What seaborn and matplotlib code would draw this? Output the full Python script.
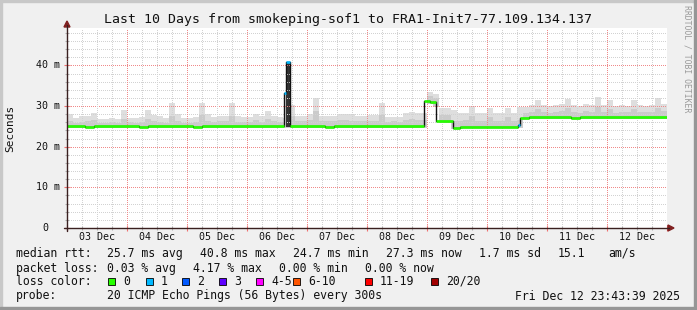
import numpy as np
import pandas as pd
import matplotlib
matplotlib.use("Agg")
import matplotlib.pyplot as plt
import seaborn as sns
from matplotlib.patches import Rectangle, Polygon
from matplotlib.lines import Line2D
from matplotlib.transforms import blended_transform_factory

# ---------------- data ----------------
title = "Last 10 Days from smokeping-sof1 to FRA1-Init7-77.109.134.137"
day_labels = ["03 Dec", "04 Dec", "05 Dec", "06 Dec", "07 Dec",
              "08 Dec", "09 Dec", "10 Dec", "11 Dec", "12 Dec"]
y_tick_values = [0, 10, 20, 30, 40]
y_tick_labels = ["0", "10 m", "20 m", "30 m", "40 m"]

# median rtt (ms), step function; time in days since 03 Dec 00:00
med_t = [0.00, 0.30, 0.45, 1.20, 1.35, 2.10, 2.25, 3.62, 3.65, 3.72, 4.30, 4.45,
         5.95, 6.05, 6.15, 6.43, 6.55, 7.52, 7.55, 7.70, 8.40, 8.55, 10.0]
med_v = [25.0, 24.8, 25.0, 24.8, 25.0, 24.8, 25.0, 33.3, 40.8, 25.0, 24.8, 25.0,
         31.3, 30.9, 26.3, 24.6, 24.9, 25.3, 27.1, 27.3, 27.1, 27.3, 27.3]
med_loss = [0, 0, 0, 0, 0, 0, 0, 1, 1, 0, 0, 0,
            0, 0, 0, 0, 0, 1, 0, 0, 0, 0]

# smoke (ms), 100 bins of 0.1 day
smoke_lo = [24.6, 24.6, 24.6, 24.6, 24.6, 24.6, 24.6, 24.6, 24.6, 24.6,
            24.6, 24.6, 24.6, 24.6, 24.6, 24.6, 24.6, 24.6, 24.6, 24.6,
            24.6, 24.6, 24.6, 24.6, 24.6, 24.6, 24.6, 24.6, 24.6, 24.6,
            24.6, 24.6, 24.6, 24.6, 24.6, 24.6, 24.6, 24.6, 24.6, 24.6,
            24.6, 24.6, 24.6, 24.6, 24.6, 24.6, 24.6, 24.6, 24.6, 24.6,
            24.6, 24.6, 24.6, 24.6, 24.6, 24.6, 24.6, 24.6, 24.6, 24.6,
            30.4, 29.8, 25.8, 25.8, 24.4, 24.4, 24.5, 24.5, 24.5, 24.5,
            24.5, 24.5, 24.5, 24.5, 24.5, 24.6, 26.9, 26.9, 26.9, 26.9,
            26.9, 26.9, 26.9, 26.9, 26.9, 26.9, 26.9, 26.9, 26.9, 26.9,
            26.9, 26.9, 26.9, 26.9, 26.9, 26.9, 26.9, 26.9, 26.9, 26.9]
smoke_mid = [26.2, 25.9, 26.0, 26.3, 26.6, 25.9, 25.8, 26.0, 25.9, 26.8,
             26.0, 25.9, 26.1, 26.9, 26.3, 26.1, 25.9, 27.6, 26.4, 25.9,
             25.9, 26.1, 27.9, 26.4, 26.0, 26.2, 26.2, 27.5, 26.1, 26.0,
             26.0, 26.5, 26.1, 26.9, 26.2, 26.0, 26.0, 27.6, 26.3, 26.2,
             26.5, 28.9, 26.3, 26.2, 26.2, 26.5, 26.5, 26.4, 26.2, 26.2,
             26.3, 26.3, 27.8, 26.1, 26.2, 26.1, 26.6, 26.9, 26.6, 26.6,
             32.4, 32.0, 27.8, 27.7, 26.3, 26.4, 26.5, 27.6, 26.4, 26.3,
             27.3, 26.4, 26.3, 27.3, 26.4, 26.5, 28.4, 28.6, 29.2, 28.6,
             28.4, 28.6, 28.7, 29.4, 28.6, 28.4, 28.7, 28.6, 29.7, 28.6,
             29.2, 28.4, 28.6, 28.5, 29.2, 28.6, 28.5, 28.6, 29.6, 28.8]
smoke_hi = [28.0, 27.0, 27.5, 27.5, 28.2, 26.8, 26.8, 27.0, 26.8, 29.0,
            27.0, 27.0, 27.2, 29.0, 27.7, 27.5, 27.0, 30.7, 28.0, 27.0,
            27.0, 27.2, 30.8, 28.0, 27.2, 27.6, 27.6, 30.7, 27.5, 27.2,
            27.2, 28.0, 27.5, 28.7, 27.5, 27.2, 27.0, 30.3, 27.6, 27.6,
            28.0, 32.0, 27.6, 27.6, 27.6, 28.0, 28.0, 28.0, 27.6, 27.6,
            27.8, 27.8, 30.7, 27.4, 27.4, 27.4, 28.2, 28.5, 28.2, 28.2,
            33.5, 33.0, 29.4, 29.4, 29.0, 28.3, 28.3, 30.0, 28.3, 28.2,
            29.5, 28.2, 28.2, 29.5, 28.2, 29.8, 29.8, 30.3, 31.5, 30.3,
            30.0, 30.3, 30.5, 31.7, 30.3, 30.0, 30.5, 30.3, 32.2, 30.3,
            31.5, 30.0, 30.3, 30.0, 31.5, 30.3, 30.0, 30.3, 32.0, 30.5]

# outage spike around 06 Dec 15:00
spike_t0 = [3.62, 3.65]
spike_t1 = [3.65, 3.72]
spike_lo = [24.8, 24.8]
spike_hi = [33.3, 40.8]
spike_shade = ["#d4d4d4", "#333333"]

loss_names = ["0", "1", "2", "3", "4-5", "6-10", "11-19", "20/20"]
loss_colors = ["#26ff00", "#00b8ff", "#0059ff", "#5e00ff",
               "#ff00ff", "#ff5500", "#ff0000", "#a10000"]

rtt_stats = ["25.7 ms avg", "40.8 ms max", "24.7 ms min", "27.3 ms now",
             "1.7 ms sd", "15.1", "am/s"]
loss_stats = ["0.03 % avg", "4.17 % max", "0.00 % min", "0.00 % now"]
probe_text = "20 ICMP Echo Pings (56 Bytes) every 300s"
date_text = "Fri Dec 12 23:43:39 2025"

# ---------------- layout ----------------
W, H = 697, 310
def fx(x):
    return x / W
def fy(y):
    return 1 - y / H

sns.set_theme(style="white")
plt.rcParams["font.family"] = ["DejaVu Sans Mono", "DejaVu Sans"]

fig = plt.figure(figsize=(W / 100, H / 100), dpi=100, facecolor="#f0f0f0")
X0, X1, YT, YB = 67, 667, 28, 228
ax = fig.add_axes([fx(X0), fy(YB), (X1 - X0) / W, (YB - YT) / H])
ax.set_facecolor("white")
ax.set_xlim(0, 10)
ax.set_ylim(0, 49.2)
for s in ax.spines.values():
    s.set_visible(False)

# smoke
nb = len(smoke_hi)
bx = np.arange(nb) * (10.0 / nb)
lo = np.array(smoke_lo); mid = np.array(smoke_mid); hi = np.array(smoke_hi)
ax.bar(bx, hi - lo, bottom=lo, width=10.0 / nb, align="edge",
       color="#dedede", linewidth=0, zorder=1)
ax.bar(bx, mid - lo, bottom=lo, width=10.0 / nb, align="edge",
       color="#cbcbcb", linewidth=0, zorder=1.1)
for a, b, l, h, c in zip(spike_t0, spike_t1, spike_lo, spike_hi, spike_shade):
    ax.bar([a], [h - l], bottom=[l], width=b - a, align="edge",
           color=c, linewidth=0, zorder=1.2)

# grid (1px dots)
gcol, mcol = "#d2d2d2", "#f08a8a"
for v in np.arange(2, 49, 2):
    major = (v % 10 == 0)
    ax.axhline(v, color=mcol if major else gcol, lw=0.72, antialiased=False,
               linestyle=(0, (1, 2)), zorder=1.5)
for d in np.arange(0.25, 10, 0.25):
    major = abs(d - round(d)) < 1e-9
    ax.axvline(d, color=mcol if major else gcol, lw=0.72, antialiased=False,
               linestyle=(0, (1, 2)), zorder=1.5)

# median line
df = pd.DataFrame({"t": med_t, "rtt": med_v})
sns.lineplot(data=df, x="t", y="rtt", drawstyle="steps-post", color="#111111",
             lw=1.0, estimator=None, sort=False, ax=ax, zorder=3)
seg_cols = [loss_colors[k] for k in med_loss]
ax.hlines(med_v[:-1], med_t[:-1], med_t[1:], colors=seg_cols, lw=1.9, zorder=4)
ax.set_xlabel("")
ax.set_ylabel("")

# ticks
ax.set_xticks(np.arange(0, 11, 1))
ax.set_xticks(np.arange(0, 10.01, 0.25), minor=True)
ax.set_yticks(y_tick_values)
ax.set_yticks(np.arange(0, 49, 2), minor=True)
ax.set_xticklabels([])
ax.set_yticklabels([])
ax.tick_params(axis="both", which="major", direction="inout", length=4,
               width=0.8, color="#f07070", bottom=True, left=True)
ax.tick_params(axis="both", which="minor", direction="inout", length=3,
               width=0.8, color="#b0b0b0", bottom=True, left=True)

btx = blended_transform_factory(ax.transData, fig.transFigure)
for i, lab in enumerate(day_labels):
    ax.text(i + 0.5, fy(237.5), lab, transform=btx, ha="center", va="center",
            fontsize=7.2, color="#111111")
bty = blended_transform_factory(fig.transFigure, ax.transData)
for v, lab in zip(y_tick_values, y_tick_labels):
    xr = 48 if lab == "0" else 60
    ax.text(fx(xr), v, lab, transform=bty, ha="right", va="center",
            fontsize=7.2, color="#111111")

# axes lines and arrows
axis_col = "#3a2020"
fig.add_artist(Line2D([fx(X0), fx(X0)], [fy(YB + 3), fy(25)], color=axis_col, lw=1.0))
fig.add_artist(Line2D([fx(X0 - 3), fx(669)], [fy(YB), fy(YB)], color=axis_col, lw=1.0))
fig.add_artist(Polygon([[fx(X0 - 3), fy(27)], [fx(X0 + 3), fy(27)], [fx(X0), fy(21)]],
                       closed=True, color="#802020", transform=fig.transFigure))
fig.add_artist(Polygon([[fx(668), fy(YB - 3)], [fx(668), fy(YB + 3)], [fx(674), fy(YB)]],
                       closed=True, color="#802020", transform=fig.transFigure))

# title and side labels
fig.text(fx(347.5), fy(19.5), title, ha="center", va="center", fontsize=9.5,
         color="#111111")
fig.text(fx(10), fy(128), "Seconds", rotation=90, ha="center", va="center",
         fontsize=8, color="#111111")
fig.text(fx(686.5), fy(59), "RRDTOOL / TOBI OETIKER", rotation=270,
         ha="center", va="center", fontsize=5.9, color="#9a9a9a")

# legend block
fs = 8.3
tc = "#111111"
y1, y2, y3, y4 = 253.3, 268.3, 281.5, 296.0
fig.text(fx(16), fy(y1), "median rtt:", ha="left", va="center", fontsize=fs, color=tc)
for txt, x in zip(rtt_stats, [107, 200, 293, 386, 479, 558, 608]):
    fig.text(fx(x), fy(y1), txt, ha="left", va="center", fontsize=fs, color=tc)
fig.text(fx(16), fy(y2), "packet loss:", ha="left", va="center", fontsize=fs, color=tc)
for txt, x in zip(loss_stats, [107, 193, 279, 365]):
    fig.text(fx(x), fy(y2), txt, ha="left", va="center", fontsize=fs, color=tc)
fig.text(fx(16), fy(y3), "loss color:", ha="left", va="center", fontsize=fs, color=tc)
sq_x = [108, 146, 182, 219, 256, 293, 365, 431]
for name, col, x in zip(loss_names, loss_colors, sq_x):
    fig.add_artist(Rectangle((fx(x), fy(y3 + 3.4)), 7 / W, 7 / H, facecolor=col,
                             edgecolor="black", lw=0.6, transform=fig.transFigure))
    fig.text(fx(x + 15), fy(y3), name, ha="left", va="center", fontsize=fs, color=tc)
fig.text(fx(16), fy(y4), "probe:", ha="left", va="center", fontsize=fs, color=tc)
fig.text(fx(107), fy(y4), probe_text, ha="left", va="center", fontsize=fs, color=tc)
fig.text(fx(680), fy(y4), date_text, ha="right", va="center", fontsize=fs, color=tc)

# 3d border
fig.add_artist(Rectangle((0, fy(2)), 1, 2 / H, color="#c8c8c8", transform=fig.transFigure))
fig.add_artist(Rectangle((0, 0), 2 / W, 1, color="#c8c8c8", transform=fig.transFigure))
fig.add_artist(Rectangle((0, 0), 1, 3 / H, color="#969696", transform=fig.transFigure))
fig.add_artist(Rectangle((fx(W - 3), 0), 3 / W, 1, color="#969696", transform=fig.transFigure))

fig.savefig("out.png", dpi=100, facecolor=fig.get_facecolor())
